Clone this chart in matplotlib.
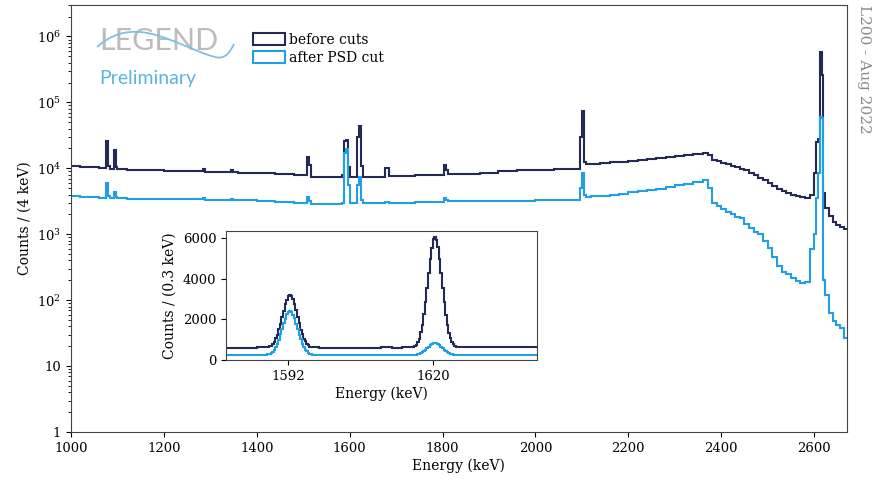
import matplotlib
matplotlib.use("Agg")
import matplotlib.pyplot as plt
import numpy as np
from matplotlib.path import Path
from matplotlib.patches import PathPatch, Patch
from matplotlib.ticker import FixedLocator, FuncFormatter, LogLocator, NullFormatter

plt.rcParams['font.family'] = ['DejaVu Serif']
plt.rcParams['mathtext.fontset'] = 'dejavuserif'

DARK = '#222a55'
LIGHT = '#1e9fe6'

# main spectrum, 4 keV binning (wider bins where the continuum is flat)
main_edges = [1000, 1020, 1040, 1060, 1076, 1080, 1084, 1092, 1096, 1100,
              1120, 1160, 1200, 1240, 1284, 1288, 1320, 1344, 1348, 1360,
              1400, 1440, 1480, 1508, 1512, 1516, 1540, 1560, 1584, 1588,
              1592, 1596, 1600, 1616, 1620, 1624, 1628, 1660, 1676, 1684,
              1700, 1740, 1780, 1804, 1808, 1812, 1840, 1880, 1920, 1960,
              2000, 2040, 2080, 2096, 2100, 2104, 2108,
              2120, 2140, 2160, 2180, 2200, 2220, 2240, 2260, 2280, 2300,
              2320, 2340, 2360, 2372,
              2380, 2390, 2400, 2410, 2420, 2430, 2440, 2450, 2460, 2470,
              2480, 2490, 2500, 2510, 2520, 2530, 2540, 2550, 2560, 2570,
              2580, 2592, 2600,
              2604, 2608, 2612, 2616, 2620, 2624, 2632, 2640, 2648, 2656,
              2664, 2670]
before_cuts = [10700, 10500, 10300, 10100, 26400, 11000, 9900, 19000, 10400,
               9700, 9500, 9300, 9200, 9000, 9700, 8900, 8800, 9300, 8700,
               8600, 8400, 8100, 7800, 14700, 11200, 7500, 7400, 7400, 7900,
               26000, 27300, 10500, 7500, 30000, 44600, 11000, 7500, 7500, 10000,
               7600, 7700, 7800, 7900, 11400, 9300, 8100, 8300, 8600, 9000,
               9300, 9500, 9700, 9800, 30000, 74000, 12500,
               11500, 11700, 12000, 12300, 12600, 13000, 13400, 13800, 14300, 14800,
               15300, 15900, 16500, 17300,
               15800, 13600, 12800, 12200, 11600, 11000, 10500, 9900, 9300, 8600,
               7900, 7200, 6600, 6000, 5400, 4900, 4500, 4200, 4000, 3800,
               3650, 3500, 3900,
               8500, 25000, 28000, 580000, 260000, 4200, 2500, 1900, 1550, 1400,
               1280, 1200]
after_psd = [3750, 3700, 3650, 3600, 6000, 3800, 3550, 4400, 3650,
             3500, 3450, 3450, 3400, 3400, 3550, 3350, 3350, 3450, 3300,
             3300, 3250, 3100, 2950, 3700, 3250, 2900, 2850, 2850, 3000,
             17000, 19500, 5500, 2950, 5500, 7300, 3300, 2950, 2950, 3050,
             3000, 3000, 3050, 3100, 3600, 3300, 3150, 3150, 3200, 3250,
             3250, 3300, 3300, 3350, 5000, 8500, 3900,
             3650, 3750, 3850, 4000, 4150, 4300, 4500, 4700, 4900, 5200,
             5500, 5850, 6200, 6700,
             5000, 3000, 2650, 2400, 2200, 2000, 1850, 1750, 1450, 1250,
             1100, 1000, 800, 620, 450, 330, 265, 250, 215, 195,
             185, 190, 600,
             1000, 3500, 8500, 60000, 58000, 200, 120, 65, 48, 42,
             38, 27]

# inset, 0.3 keV binning around the two peaks
dep_grid = np.linspace(1588.0, 1596.7, 30)
bi_grid = np.linspace(1616.0, 1624.7, 30)
inset_edges = np.concatenate([[1580, 1582, 1584, 1586], dep_grid,
                              [1598, 1600, 1602, 1604, 1606, 1608, 1610, 1612, 1614], bi_grid,
                              [1626, 1628, 1630, 1632, 1634, 1636, 1638, 1640]])
inset_before = ([590, 610, 600, 620] +
                [630, 675, 712, 801, 898, 1066, 1251, 1522, 1790, 2133, 2431, 2760, 2970, 3160, 3190,
                 3130, 3005, 2730, 2458, 2105, 1815, 1498, 1272, 1045, 912, 786, 726, 662, 645] +
                [615, 600, 590, 610, 595, 605, 600, 615, 605, 625] +
                [650, 690, 748, 885, 1052, 1355, 1710, 2245, 2830, 3560, 4260, 4985, 5520, 5935, 6040,
                 5900, 5555, 4950, 4290, 3530, 2860, 2215, 1740, 1330, 1075, 868, 762, 680, 655] +
                [640, 630, 645, 635, 650, 640, 655, 645])
inset_after = ([240, 250, 245, 255] +
               [285, 302, 355, 405, 511, 626, 808, 1000, 1262, 1508, 1795, 2025, 2250, 2362, 2420,
                2375, 2230, 2044, 1779, 1525, 1243, 1015, 792, 640, 498, 418, 343, 311, 279] +
               [265, 255, 250, 245, 255, 250, 245, 255, 250, 255] +
               [252, 262, 265, 284, 298, 335, 370, 433, 492, 580, 650, 735, 790, 840, 852,
                830, 798, 725, 660, 570, 500, 425, 378, 328, 303, 276, 270, 256, 258] +
               [255, 260, 250, 258, 252, 260, 255, 262])

x_ticks = [1000, 1200, 1400, 1600, 1800, 2000, 2200, 2400, 2600]
inset_xticks = [1592, 1620]
inset_yticks = [0, 2000, 4000, 6000]

fig = plt.figure(figsize=(8.75, 4.84), dpi=100)
ax = fig.add_axes([0.0811, 0.1074, 0.8865, 0.8822])

ax.stairs(before_cuts, main_edges, color=DARK, lw=1.5, baseline=None)
ax.stairs(after_psd, main_edges, color=LIGHT, lw=1.5, baseline=None)

ax.set_yscale('log')
ax.set_xlim(1000, 2670)
ax.set_ylim(1, 3e6)
ax.set_xticks(x_ticks)


def log_fmt(v, pos):
    n = int(round(np.log10(v)))
    if n == 0:
        return '1'
    if n == 1:
        return '10'
    return r'$10^{%d}$' % n


ax.yaxis.set_major_locator(FixedLocator([1, 10, 1e2, 1e3, 1e4, 1e5, 1e6]))
ax.yaxis.set_major_formatter(FuncFormatter(log_fmt))
ax.yaxis.set_minor_locator(LogLocator(base=10, subs=np.arange(2, 10), numticks=20))
ax.yaxis.set_minor_formatter(NullFormatter())
ax.tick_params(labelsize=9.5)
ax.set_xlabel('Energy (keV)', fontsize=10, labelpad=3)
ax.set_ylabel('Counts / (4 keV)', fontsize=10)
for s in ax.spines.values():
    s.set_color('#444444')

handles = [Patch(facecolor='none', edgecolor=DARK, lw=1.5),
           Patch(facecolor='none', edgecolor=LIGHT, lw=1.5)]
ax.legend(handles, ['before cuts', 'after PSD cut'], loc='upper left',
          bbox_to_anchor=(0.235, 0.935), frameon=False, fontsize=10,
          handlelength=2.3, handleheight=0.9, handletextpad=0.3, labelspacing=0.3,
          borderpad=0, borderaxespad=0)

# LEGEND logo
ax.text(0.036, 0.916, 'LEGEND', transform=ax.transAxes, fontsize=22, family='Lato',
        color='#bcbcbc', va='center', ha='left')
ax.text(0.036, 0.829, 'Preliminary', transform=ax.transAxes, fontsize=14, family='Lato',
        color='#5ab4e2', va='center', ha='left')
W, H = 875.0, 484.0
wave = [(97, 47), (112, 34), (125, 31), (140, 32),
        (165, 34), (195, 52), (215, 57),
        (225, 60), (230, 52), (234, 44)]
codes = [Path.MOVETO] + [Path.CURVE4] * 9
wave = [(px / W, 1 - py / H) for px, py in wave]
fig.add_artist(PathPatch(Path(wave, codes), transform=fig.transFigure, fill=False,
                         edgecolor='#7cc0e6', lw=1.3))

fig.text(0.987, 0.99, 'L200 - Aug 2022', rotation=270, va='top', ha='center',
         fontsize=11, color='#8a8a8a')

# inset
axi = fig.add_axes([0.2583, 0.2562, 0.3551, 0.2671])
axi.stairs(inset_before, inset_edges, color=DARK, lw=1.5, baseline=None)
axi.stairs(inset_after, inset_edges, color=LIGHT, lw=1.5, baseline=None)
axi.set_xlim(1580, 1640)
axi.set_ylim(0, 6350)
axi.set_xticks(inset_xticks)
axi.set_yticks(inset_yticks)
axi.tick_params(labelsize=9.5)
axi.set_xlabel('Energy (keV)', fontsize=10, labelpad=3)
axi.set_ylabel('Counts / (0.3 keV)', fontsize=10)
for s in axi.spines.values():
    s.set_color('#444444')

fig.savefig('out.png', dpi=100)
